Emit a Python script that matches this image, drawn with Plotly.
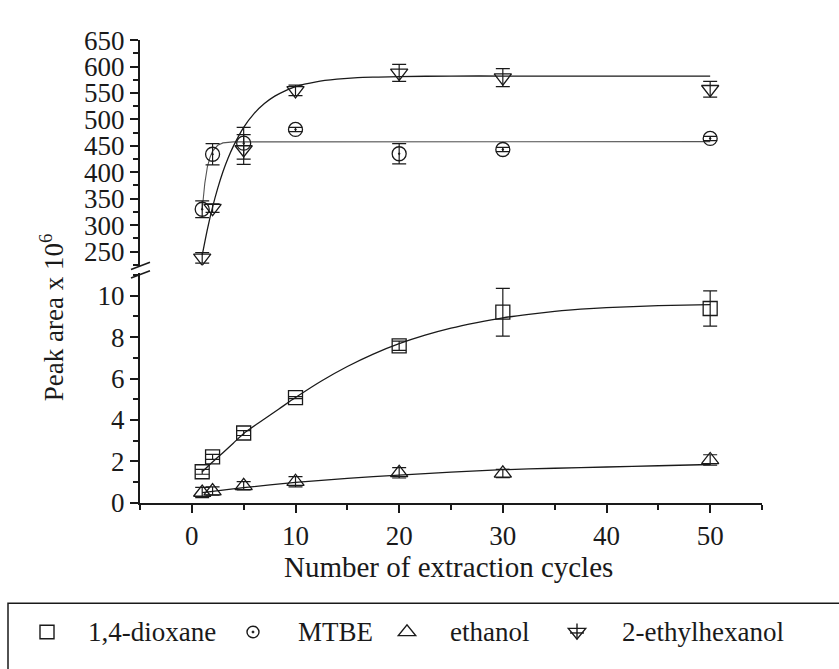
import plotly.graph_objects as go

# Measured peak areas (x 10^6) versus number of extraction cycles
cycles = [1, 2, 5, 10, 20, 30, 50]

dioxane = [1.50, 2.22, 3.37, 5.08, 7.58, 9.20, 9.38]
dioxane_err = [0.12, 0.12, 0.12, 0.05, 0.22, 1.15, 0.85]

ethanol = [0.50, 0.57, 0.82, 1.02, 1.45, 1.42, 2.07]
ethanol_err = [0.25, 0.20, 0.20, 0.25, 0.25, 0.20, 0.25]

mtbe = [330, 434, 455, 481, 435, 443, 464]
mtbe_err = [16, 20, 30, 4, 19, 4, 4]

ethylhexanol = [238, 332, 443, 555, 588, 579, 557]
ethylhexanol_err = [10, 8, 28, 10, 16, 17, 15]

# Fitted saturation curves
dioxane_fit_x = [1, 2, 3, 4, 5, 6.5, 8.4, 10, 12.5, 15, 17.5, 20, 22.5, 25, 27.5,
                 30, 32.5, 35, 37.5, 40, 45, 50]
dioxane_fit_y = [1.50, 1.97, 2.42, 2.88, 3.35, 3.88, 4.53, 5.08, 5.88, 6.58, 7.18, 7.68,
                 8.09, 8.43, 8.70, 8.93, 9.10, 9.24, 9.35, 9.42, 9.52, 9.57]

ethanol_fit_x = [1, 2, 5, 10, 15, 20, 25, 30, 35, 40, 45, 50]
ethanol_fit_y = [0.49, 0.55, 0.73, 0.99, 1.18, 1.34, 1.48, 1.60, 1.67, 1.73, 1.79, 1.85]

mtbe_fit_x = [1, 1.25, 1.5, 1.75, 2, 2.5, 3, 4, 50]
mtbe_fit_y = [330, 379, 410, 428, 440, 451, 455.5, 457.5, 458]

ethylhexanol_fit_x = [1, 1.5, 2, 2.5, 3, 3.5, 4, 5, 6, 7, 8, 9, 10, 12, 14, 16, 18, 20, 25, 30, 50]
ethylhexanol_fit_y = [243, 292, 334, 370, 401, 427, 449, 485, 511, 530, 544, 554, 562, 571,
                      576, 579, 580, 581, 582, 582, 582]

# Legend entries
legend_names = ["1,4-dioxane", "MTBE", "ethanol", "2-ethylhexanol"]
legend_symbols = ["square-open", "circle-open-dot", "triangle-up-open", "triangle-down-open"]

W, H = 839, 669
FONT = "Liberation Serif, Times New Roman, serif"
INK = "#1a1a1a"


def px_x(p):
    return p / W


def px_y(p):
    return 1 - p / H


def path_px(points, close=True):
    """SVG path in paper units from a list of pixel points."""
    parts = [f"{'M' if i == 0 else 'L'}{px_x(x):.5f},{px_y(y):.5f}" for i, (x, y) in enumerate(points)]
    return " ".join(parts) + (" Z" if close else "")


err_style = dict(type="data", thickness=1.2, width=7, color=INK)

fig = go.Figure()

# bottom panel: 1,4-dioxane and ethanol fits
fig.add_trace(go.Scatter(x=dioxane_fit_x, y=dioxane_fit_y, mode="lines",
                         line=dict(color=INK, width=1.3, shape="spline", smoothing=0.6),
                         showlegend=False, hoverinfo="skip", xaxis="x", yaxis="y"))
fig.add_trace(go.Scatter(x=ethanol_fit_x, y=ethanol_fit_y, mode="lines",
                         line=dict(color=INK, width=1.3, shape="spline", smoothing=0.6),
                         showlegend=False, hoverinfo="skip", xaxis="x", yaxis="y"))

# top panel: MTBE and 2-ethylhexanol fits
fig.add_trace(go.Scatter(x=mtbe_fit_x, y=mtbe_fit_y, mode="lines",
                         line=dict(color="#555555", width=1.1),
                         showlegend=False, hoverinfo="skip", xaxis="x2", yaxis="y2"))
fig.add_trace(go.Scatter(x=ethylhexanol_fit_x, y=ethylhexanol_fit_y, mode="lines",
                         line=dict(color=INK, width=1.3, shape="spline", smoothing=0.6),
                         showlegend=False, hoverinfo="skip", xaxis="x2", yaxis="y2"))

series = [
    (dioxane, dioxane_err, "x", "y", 14),
    (mtbe, mtbe_err, "x2", "y2", 14),
    (ethanol, ethanol_err, "x", "y", 15),
    (ethylhexanol, ethylhexanol_err, "x2", "y2", 15),
]
for (vals, errs, xa, ya, size), name, sym in zip(series, legend_names, legend_symbols):
    fig.add_trace(go.Scatter(
        x=cycles, y=vals, name=name, mode="markers", showlegend=False,
        marker=dict(symbol=sym, size=size, color=INK, line=dict(width=1.3)),
        error_y=dict(array=errs, **err_style), xaxis=xa, yaxis=ya))

tick_font = dict(family=FONT, size=27, color=INK)
x_dom = [px_x(140), px_x(762)]

axis_common = dict(showgrid=False, zeroline=False, showline=True, linecolor=INK,
                   linewidth=2, ticks="outside", ticklen=8, tickwidth=1.5,
                   tickcolor=INK, tickfont=tick_font)

annotations = [
    dict(text="Number of extraction cycles", x=px_x(448), y=px_y(578),
         xref="paper", yref="paper", showarrow=False, xanchor="center", yanchor="middle",
         font=dict(family=FONT, size=29, color=INK)),
    dict(text="Peak area x 10<sup>6</sup>", x=px_x(52), y=px_y(317),
         xref="paper", yref="paper", showarrow=False, textangle=-90,
         xanchor="center", yanchor="middle",
         font=dict(family=FONT, size=27, color=INK)),
]

# legend: key glyphs as shapes, names as annotations
key_x = [47, 253, 407, 577]
label_x = [86, 296, 448, 620]
ky = 646
for lx, name in zip(label_x, legend_names):
    annotations.append(dict(text=name, x=px_x(lx), y=px_y(ky), xref="paper", yref="paper",
                            showarrow=False, xanchor="left", yanchor="middle",
                            font=dict(family=FONT, size=27, color=INK)))

key_line = dict(color=INK, width=1.4)
shapes = [
    # axis break marks
    dict(type="line", xref="paper", yref="paper", x0=px_x(131), y0=px_y(267),
         x1=px_x(150), y1=px_y(259.5), line=dict(color=INK, width=1.6)),
    dict(type="line", xref="paper", yref="paper", x0=px_x(131), y0=px_y(276),
         x1=px_x(150), y1=px_y(268.5), line=dict(color=INK, width=1.6)),
    # legend frame
    dict(type="rect", xref="paper", yref="paper", x0=px_x(8), y0=px_y(616),
         x1=px_x(850), y1=px_y(690), line=dict(color=INK, width=1.5),
         fillcolor="rgba(0,0,0,0)"),
]
# square key
kx = key_x[0]
shapes.append(dict(type="rect", xref="paper", yref="paper", x0=px_x(kx - 7), x1=px_x(kx + 7),
                   y0=px_y(ky + 7), y1=px_y(ky - 7), line=key_line))
# circle with centre dot
kx = key_x[1]
shapes.append(dict(type="circle", xref="paper", yref="paper", x0=px_x(kx - 6), x1=px_x(kx + 6),
                   y0=px_y(ky + 6), y1=px_y(ky - 6), line=key_line))
shapes.append(dict(type="circle", xref="paper", yref="paper", x0=px_x(kx - 1), x1=px_x(kx + 1),
                   y0=px_y(ky + 1), y1=px_y(ky - 1), line=dict(color=INK, width=1),
                   fillcolor=INK))
# upward triangle
kx = key_x[2]
shapes.append(dict(type="path", xref="paper", yref="paper", line=key_line,
                   path=path_px([(kx - 8.7, ky + 3.8), (kx + 8.7, ky + 3.8), (kx, ky - 7.5)])))
# downward triangle with error-bar cross
kx = key_x[3]
shapes.append(dict(type="path", xref="paper", yref="paper", line=key_line,
                   path=path_px([(kx - 8.7, ky - 3.8), (kx + 8.7, ky - 3.8), (kx, ky + 7.5)])))
shapes.append(dict(type="path", xref="paper", yref="paper", line=key_line,
                   path=path_px([(kx, ky - 9), (kx, ky + 7.5)], close=False)))
shapes.append(dict(type="path", xref="paper", yref="paper", line=key_line,
                   path=path_px([(kx - 7, ky + 1), (kx + 7, ky + 1)], close=False)))

fig.update_layout(
    width=W, height=H,
    margin=dict(l=0, r=0, t=0, b=0),
    paper_bgcolor="white", plot_bgcolor="white",
    font=dict(family=FONT, color=INK),
    showlegend=False,
    xaxis=dict(domain=x_dom, range=[-5, 55], tick0=0, dtick=10, anchor="y",
               minor=dict(dtick=5, ticklen=5, tickwidth=1.5, tickcolor=INK, ticks="outside"),
               **axis_common),
    xaxis2=dict(domain=x_dom, range=[-5, 55], anchor="y2", matches="x", visible=False),
    yaxis=dict(domain=[px_y(511), px_y(271)], range=[0, 11.08], tick0=0, dtick=2,
               anchor="x",
               minor=dict(dtick=1, ticklen=5, tickwidth=1.5, tickcolor=INK, ticks="outside"),
               **axis_common),
    yaxis2=dict(domain=[px_y(263), px_y(27)], range=[223.4, 650.5], tick0=250, dtick=50,
                anchor="x2",
                minor=dict(dtick=25, ticklen=5, tickwidth=1.5, tickcolor=INK, ticks="outside"),
                **axis_common),
    annotations=annotations,
    shapes=shapes,
)

fig.write_html("out.html")
